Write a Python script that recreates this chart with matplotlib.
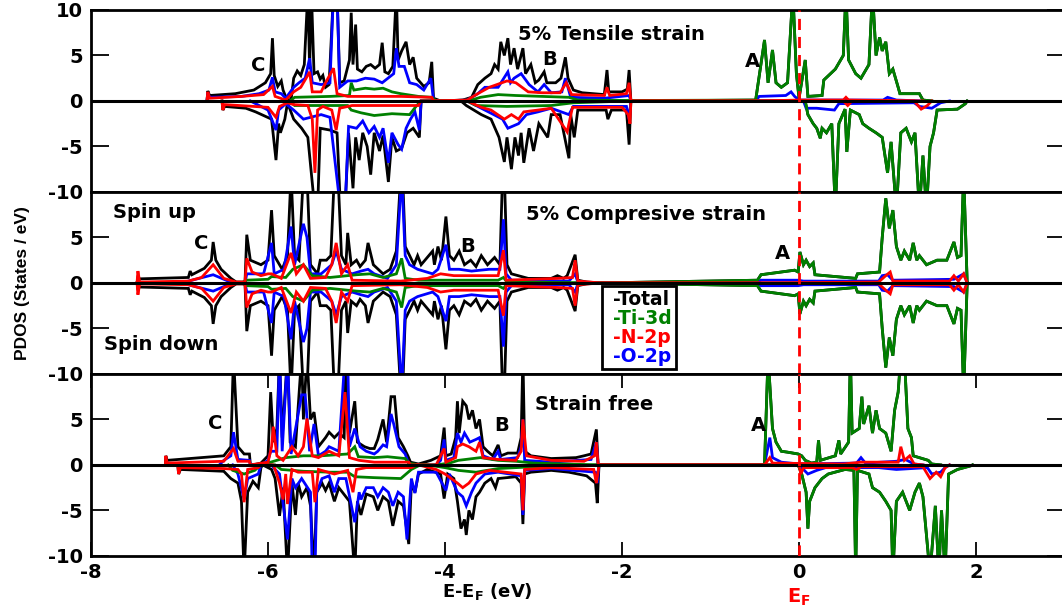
"""PDOS of the three strain states: tensile, compressive and strain free.

Spin up is drawn above zero and spin down below it, one panel per strain state.
Writes out.png.
"""
import numpy as np
import matplotlib
matplotlib.use("Agg")
import matplotlib.pyplot as plt
from matplotlib.lines import Line2D

plt.rcParams["font.family"] = ["DejaVu Sans"]
plt.rcParams["font.weight"] = "bold"
plt.rcParams["axes.unicode_minus"] = False
plt.rcParams["mathtext.fontset"] = "custom"
plt.rcParams["mathtext.rm"] = "DejaVu Sans:bold"
plt.rcParams["mathtext.it"] = "DejaVu Sans:bold"
plt.rcParams["mathtext.bf"] = "DejaVu Sans:bold"

COLORS = {"Total": "black", "Ti-3d": "#008000", "N-2p": "#ff0000", "O-2p": "#0000ff"}

# ---------------------------------------------------------------- 5 % tensile
# (E - E_F in eV, states/eV); the conduction band is shared by Total and Ti-3d
TEN_TOT_UP = [
    (-6.69, 0), (-6.68, 1.1), (-6.66, 0.6), (-6.37, 0.8), (-6.16, 1.2), (-6.03, 2.0),
    (-5.97, 3.0), (-5.95, 6.9), (-5.93, 2.8), (-5.89, 1.6), (-5.85, 2.2), (-5.83, 1.2),
    (-5.79, 0.2), (-5.74, 0.1), (-5.71, 2.5), (-5.67, 3.3), (-5.63, 2.8), (-5.59, 4.0),
    (-5.55, 12), (-5.53, 3.5), (-5.51, 12), (-5.48, 3.0), (-5.44, 3.2), (-5.41, 2.4),
    (-5.38, 2.8), (-5.35, 1.5), (-5.31, 1.8), (-5.26, 12), (-5.22, 12), (-5.19, 2.0),
    (-5.14, 2.2), (-5.08, 4.5), (-5.06, 9.7), (-5.04, 4.0), (-5.01, 8.4), (-4.99, 3.5),
    (-4.94, 3.2), (-4.89, 3.8), (-4.84, 4.0), (-4.79, 3.6), (-4.74, 4.0), (-4.71, 6.4),
    (-4.68, 3.2), (-4.64, 3.0), (-4.59, 3.8), (-4.55, 12), (-4.53, 4.5), (-4.49, 5.5),
    (-4.44, 6.5), (-4.40, 4.0), (-4.36, 4.8), (-4.32, 2.5), (-4.24, 1.6), (-4.18, 2.0),
    (-4.15, 4.3), (-4.13, 0.3), (-4.05, 0.0),
    (-3.80, 0.1), (-3.70, 0.4), (-3.63, 1.8), (-3.55, 2.5), (-3.48, 3.0), (-3.44, 4.0),
    (-3.40, 3.5), (-3.37, 6.5), (-3.33, 5.0), (-3.29, 6.9), (-3.26, 4.0), (-3.22, 5.8),
    (-3.18, 3.5), (-3.12, 5.8), (-3.09, 3.0), (-3.03, 4.0), (-2.98, 2.0), (-2.94, 2.3),
    (-2.88, 3.2), (-2.85, 2.0), (-2.75, 2.0), (-2.69, 2.5), (-2.64, 4.8), (-2.61, 2.5),
    (-2.55, 1.2), (-2.45, 0.9), (-2.20, 0.7), (-2.17, 3.4), (-2.15, 1.0), (-2.00, 1.0),
    (-1.94, 1.3), (-1.92, 3.4), (-1.90, 0.0),
]
TEN_TOT_DN = [
    (-6.52, 0), (-6.51, -1.0), (-6.49, -0.6), (-6.25, -0.8), (-6.14, -1.2), (-5.96, -2.0),
    (-5.91, -6.5), (-5.88, -2.5), (-5.86, -3.5), (-5.81, -2.0), (-5.78, -0.2), (-5.71, -2.0),
    (-5.62, -3.0), (-5.55, -4.0), (-5.47, -12), (-5.44, -12), (-5.41, -3.0), (-5.30, -3.2),
    (-5.22, -3.5), (-5.18, -12), (-5.13, -12), (-5.09, -3.5), (-5.04, -9.6), (-5.01, -4.0),
    (-4.97, -6.5), (-4.93, -3.5), (-4.88, -5.0), (-4.84, -8.1), (-4.80, -3.5), (-4.74, -5.5),
    (-4.70, -3.8), (-4.64, -8.9), (-4.60, -4.0), (-4.55, -5.5), (-4.49, -5.2), (-4.43, -3.5),
    (-4.36, -3.0), (-4.29, -4.0), (-4.27, 0),
    (-3.82, 0), (-3.76, -0.5), (-3.59, -1.5), (-3.48, -2.0), (-3.39, -4.0), (-3.33, -6.7),
    (-3.30, -4.0), (-3.25, -7.5), (-3.21, -4.0), (-3.17, -6.0), (-3.14, -3.5), (-3.11, -6.8),
    (-3.05, -3.0), (-3.00, -5.5), (-2.94, -2.5), (-2.84, -4.0), (-2.80, -1.5), (-2.70, -1.5),
    (-2.60, -6.3), (-2.58, -1.5), (-2.54, -4.0), (-2.50, -1.0), (-2.18, -1.0), (-2.16, -2.0),
    (-2.12, -1.0), (-1.95, -1.0), (-1.92, -4.8), (-1.90, 0),
]
TEN_TI_UP = [
    (-5.75, 0), (-5.70, 0.4), (-5.30, 0.5), (-5.08, 0.6), (-5.06, 2.0), (-5.03, 1.2),
    (-4.90, 1.4), (-4.80, 1.3), (-4.70, 1.4), (-4.60, 1.0), (-4.50, 0.8), (-4.30, 0.5),
    (-4.15, 0.4), (-4.10, 0), (-3.70, 0.1), (-3.60, 0.4), (-3.40, 0.7), (-3.20, 0.6),
    (-2.90, 0.5), (-2.60, 0.4), (-2.50, 0.1), (-1.90, 0.05),
]
TEN_TI_DN = [
    (-5.75, 0), (-5.70, -0.5), (-5.10, -0.5), (-5.06, -1.0), (-4.95, -1.3), (-4.80, -1.6),
    (-4.60, -1.4), (-4.40, -1.5), (-4.32, -0.5), (-4.27, 0), (-3.75, 0), (-3.65, -0.5),
    (-3.30, -0.6), (-2.80, -0.5), (-2.55, -0.2), (-1.90, 0),
]
TEN_CB_UP = [
    (-0.49, 0.1), (-0.39, 6.7), (-0.35, 2.0), (-0.30, 5.6), (-0.26, 2.0), (-0.20, 1.5),
    (-0.13, 2.0), (-0.07, 12), (-0.03, 3.0), (0.00, 0.3), (0.07, 4.5), (0.10, 0.5),
    (0.26, 0.6), (0.28, 2.3), (0.41, 3.5), (0.50, 5.0), (0.53, 12), (0.56, 4.5),
    (0.64, 3.0), (0.70, 2.5), (0.79, 4.0), (0.83, 12), (0.87, 5.0), (0.91, 7.0),
    (0.94, 5.5), (0.98, 6.5), (1.02, 3.0), (1.06, 3.5), (1.12, 1.5), (1.14, 0.8),
    (1.36, 0.8), (1.40, 0.1), (1.50, 0),
]
TEN_CB_DN = [
    (0.07, 0), (0.10, -1.5), (0.16, -2.5), (0.20, -3.0), (0.24, -4.1), (0.26, -3.0),
    (0.31, -3.5), (0.37, -2.5), (0.41, -12), (0.45, -2.5), (0.52, -0.9), (0.54, -5.6),
    (0.58, -1.0), (0.68, -1.5), (0.72, -2.5), (0.79, -3.0), (0.87, -3.5), (0.94, -4.0),
    (1.00, -7.9), (1.04, -4.5), (1.10, -12), (1.15, -3.5), (1.21, -3.0), (1.27, -4.5),
    (1.31, -3.5), (1.36, -12), (1.40, -6.0), (1.44, -12), (1.48, -5.0), (1.52, -3.5),
    (1.56, -1.0), (1.79, -0.9), (1.88, -0.3), (1.90, 0),
]
TEN_N_UP = [
    (-6.69, 0), (-6.68, 1.0), (-6.66, 0.3), (-6.30, 0.5), (-6.05, 0.7), (-5.95, 1.6),
    (-5.92, 0.5), (-5.80, 0.1), (-5.71, 1.0), (-5.63, 1.5), (-5.57, 2.5), (-5.53, 3.2),
    (-5.50, 1.0), (-5.40, 1.0), (-5.35, 2.0), (-5.26, 3.6), (-5.22, 0.8), (-5.10, 0.5),
    (-4.50, 0.5), (-4.15, 0.4), (-4.13, 0),
    (-3.75, 0.1), (-3.63, 0.8), (-3.50, 1.5), (-3.30, 2.2), (-3.20, 2.0), (-3.06, 1.0),
    (-2.90, 0.9), (-2.70, 0.9), (-2.63, 2.0), (-2.57, 0.7), (-2.20, 0.6), (-2.17, 1.5),
    (-2.14, 0.6), (-1.95, 0.8), (-1.92, 2.0), (-1.90, 0),
    (-0.45, 0), (0.0, 0.1), (0.50, 0.1), (0.53, 0.4), (0.56, 0.1), (1.40, 0),
]
TEN_N_DN = [
    (-6.52, 0), (-6.51, -1.0), (-6.49, -0.4), (-6.00, -0.7), (-5.91, -1.8), (-5.87, -0.6),
    (-5.78, -0.2), (-5.71, -0.4), (-5.55, -0.5), (-5.50, -2.0), (-5.47, -7.9), (-5.44, -1.0),
    (-5.38, -0.6), (-5.28, -1.0), (-5.23, -3.2), (-5.19, -0.8), (-5.05, -0.5), (-4.30, -0.5),
    (-4.27, 0),
    (-3.75, 0), (-3.59, -0.7), (-3.48, -1.0), (-3.33, -2.0), (-3.25, -1.5), (-3.17, -2.0),
    (-3.11, -1.2), (-2.95, -1.0), (-2.80, -0.8), (-2.62, -3.4), (-2.56, -0.7), (-2.00, -0.7),
    (-1.93, -1.5), (-1.91, -2.5), (-1.90, 0),
    (0.50, 0), (0.55, -0.5), (0.60, 0), (1.30, 0), (1.38, -0.9), (1.45, -0.5), (1.50, 0),
]
TEN_O_UP = [
    (-6.69, 0), (-6.68, 0.9), (-6.66, 0.4), (-6.30, 0.5), (-6.10, 0.8), (-5.99, 1.2),
    (-5.95, 2.6), (-5.92, 1.0), (-5.85, 0.8), (-5.80, 0.3), (-5.71, 1.5), (-5.65, 2.0),
    (-5.58, 2.5), (-5.53, 4.7), (-5.50, 2.0), (-5.40, 1.8), (-5.30, 2.0), (-5.26, 12),
    (-5.22, 12), (-5.19, 1.5), (-5.10, 2.2), (-5.00, 2.2), (-4.90, 2.5), (-4.80, 2.4),
    (-4.71, 2.0), (-4.58, 3.0), (-4.55, 5.8), (-4.52, 3.8), (-4.46, 3.8), (-4.40, 2.0),
    (-4.32, 1.8), (-4.24, 1.2), (-4.16, 2.5), (-4.13, 0.1), (-4.05, 0),
    (-3.75, 0.1), (-3.63, 0.8), (-3.55, 1.5), (-3.40, 1.5), (-3.29, 3.2), (-3.26, 2.0),
    (-3.22, 2.5), (-3.14, 3.0), (-3.05, 1.8), (-2.95, 1.0), (-2.88, 1.8), (-2.80, 0.9),
    (-2.68, 1.0), (-2.64, 2.5), (-2.58, 0.4), (-2.20, 0.3), (-1.92, 0.6), (-1.90, 0),
    (-0.49, 0), (-0.45, 0.5), (-0.15, 0.6), (-0.09, 1.0), (-0.05, 0.5), (0.00, 0.1),
    (0.95, 0.1), (1.00, 0.4), (1.10, 0.1), (1.40, 0),
]
TEN_O_DN = [
    (-6.20, 0), (-6.00, -1.0), (-5.91, -3.2), (-5.88, -1.0), (-5.80, -0.3), (-5.71, -1.0),
    (-5.60, -2.0), (-5.40, -1.5), (-5.30, -1.8), (-5.18, -12), (-5.13, -12), (-5.09, -2.8),
    (-5.00, -3.0), (-4.93, -2.2), (-4.86, -3.5), (-4.80, -2.8), (-4.74, -4.0), (-4.70, -3.0),
    (-4.64, -6.8), (-4.60, -3.5), (-4.53, -4.8), (-4.49, -5.3), (-4.44, -3.0), (-4.39, -2.0),
    (-4.34, -1.2), (-4.29, -3.2), (-4.27, 0),
    (-3.75, 0), (-3.59, -0.8), (-3.45, -1.5), (-3.35, -2.0), (-3.29, -3.0), (-3.17, -2.5),
    (-3.08, -1.5), (-2.95, -1.2), (-2.80, -0.8), (-2.60, -1.5), (-2.55, -0.6), (-1.95, -0.6),
    (-1.92, -2.0), (-1.90, 0),
    (0.05, 0), (0.08, -0.8), (0.20, -0.8), (0.40, -1.0), (0.45, -0.3), (1.30, -0.2),
    (1.36, -0.6), (1.50, -0.8), (1.60, -0.2), (1.70, 0),
]

# -------------------------------------------------------- 5 % compressive
# spin up only: the spin-down curves of this panel are its mirror image
CMP_TOT_UP = [
    (-7.48, 0), (-7.47, 0.6), (-7.45, 0.45), (-6.90, 0.6), (-6.88, 1.3), (-6.86, 0.9),
    (-6.72, 1.6), (-6.64, 2.5), (-6.62, 4.5), (-6.59, 2.5), (-6.53, 1.5), (-6.42, 0.5),
    (-6.36, 0.1), (-6.26, 0.1), (-6.24, 5.3), (-6.20, 2.5), (-6.08, 2.0), (-6.00, 2.5),
    (-5.96, 8.0), (-5.93, 3.0), (-5.84, 1.5), (-5.78, 3.0), (-5.74, 12), (-5.70, 3.0),
    (-5.65, 2.5), (-5.60, 12), (-5.56, 12), (-5.52, 2.0), (-5.44, 1.0), (-5.41, 2.5),
    (-5.34, 2.5), (-5.29, 3.0), (-5.25, 12), (-5.21, 12), (-5.17, 3.0), (-5.12, 2.0),
    (-5.10, 5.5), (-5.06, 2.0), (-5.00, 2.5), (-4.96, 1.8), (-4.90, 2.5), (-4.87, 4.4),
    (-4.81, 2.0), (-4.70, 1.0), (-4.62, 1.5), (-4.55, 3.5), (-4.50, 12), (-4.48, 12),
    (-4.45, 4.0), (-4.40, 3.0), (-4.35, 2.0), (-4.31, 3.0), (-4.27, 2.0), (-4.14, 3.5),
    (-4.12, 2.0), (-4.08, 4.0), (-4.04, 2.5), (-3.99, 7.3), (-3.95, 3.0), (-3.90, 2.5),
    (-3.84, 3.5), (-3.78, 2.0), (-3.71, 2.5), (-3.65, 1.8), (-3.59, 3.0), (-3.52, 2.0),
    (-3.44, 2.8), (-3.38, 2.0), (-3.35, 12), (-3.33, 12), (-3.30, 2.0), (-3.25, 1.0),
    (-3.06, 0.5), (-2.80, 0.5), (-2.73, 0.8), (-2.66, 0.5), (-2.62, 0.8), (-2.53, 3.1),
    (-2.50, 0.3), (-2.40, 0.1), (-2.24, 0.0),
]
CMP_TI_UP = [
    (-6.30, 0), (-6.24, 0.3), (-6.00, 0.4), (-5.96, 0.7), (-5.80, 0.6), (-5.72, 1.5),
    (-5.60, 2.0), (-5.50, 0.8), (-5.30, 0.6), (-5.00, 0.9), (-4.85, 1.0), (-4.70, 0.6),
    (-4.55, 1.0), (-4.49, 2.7), (-4.45, 0.5), (-4.30, 0.3), (-3.40, 0.3), (-3.34, 0.6),
    (-3.30, 0.1), (-2.24, 0),
]
CMP_CB_UP = [
    (-0.47, 0.3), (-0.43, 0.9), (-0.05, 1.4), (-0.01, 1.2), (0.01, 3.4), (0.05, 2.0),
    (0.08, 2.5), (0.12, 1.8), (0.16, 2.2), (0.18, 0.9), (0.64, 0.5), (0.66, 1.0),
    (0.91, 1.2), (0.94, 5.0), (0.98, 9.3), (1.02, 6.0), (1.06, 8.0), (1.10, 4.0),
    (1.15, 2.5), (1.19, 3.5), (1.25, 2.5), (1.29, 4.4), (1.33, 2.5), (1.36, 3.0),
    (1.44, 2.0), (1.56, 2.5), (1.67, 2.5), (1.75, 4.5), (1.79, 2.8), (1.83, 3.0),
    (1.86, 12), (1.90, 0),
]
CMP_N_UP = [
    (-7.48, 0), (-7.47, 1.3), (-7.45, 0.1), (-6.90, 0.2), (-6.75, 0.6), (-6.62, 2.0),
    (-6.50, 0.5), (-6.36, 0.1), (-6.26, 0.1), (-6.24, 2.7), (-6.18, 1.2), (-6.08, 0.8),
    (-6.00, 1.0), (-5.96, 1.0), (-5.85, 0.5), (-5.74, 3.3), (-5.68, 1.0), (-5.60, 2.0),
    (-5.52, 0.5), (-5.35, 0.6), (-5.28, 2.0), (-5.23, 4.4), (-5.17, 1.0), (-5.10, 2.0),
    (-5.05, 0.3), (-4.50, 0.2), (-4.20, 0.5), (-4.05, 1.0), (-3.90, 0.8), (-3.60, 0.8),
    (-3.40, 0.8), (-3.34, 3.6), (-3.31, 0.3), (-2.73, 0.5), (-2.56, 0.6), (-2.53, 2.5),
    (-2.50, 0.2), (-2.24, 0),
    (-0.47, 0), (0.90, 0.1), (0.98, 0.8), (1.03, 1.2), (1.06, 0.2), (1.70, 0.2),
    (1.75, 0.8), (1.80, 0.2), (1.86, 1.0), (1.90, 0),
]
CMP_O_UP = [
    (-7.00, 0), (-6.90, 0.2), (-6.62, 0.9), (-6.45, 0.2), (-6.36, 0), (-6.26, 0),
    (-6.24, 1.0), (-6.05, 1.0), (-5.96, 4.4), (-5.93, 1.0), (-5.82, 1.5), (-5.74, 6.2),
    (-5.70, 2.0), (-5.60, 6.5), (-5.56, 5.0), (-5.52, 1.0), (-5.40, 1.0), (-5.28, 2.0),
    (-5.23, 3.5), (-5.17, 1.5), (-5.05, 1.0), (-4.95, 1.3), (-4.87, 1.5), (-4.80, 1.0),
    (-4.65, 0.5), (-4.55, 2.0), (-4.49, 12), (-4.45, 3.0), (-4.40, 2.0), (-4.31, 1.5),
    (-4.14, 1.0), (-4.08, 1.5), (-3.99, 4.2), (-3.95, 1.5), (-3.84, 1.5), (-3.70, 1.3),
    (-3.50, 1.5), (-3.38, 1.5), (-3.34, 7.0), (-3.31, 1.0), (-3.25, 0.3), (-2.60, 0.2),
    (-2.53, 1.0), (-2.50, 0.1), (-2.24, 0),
    (-0.47, 0), (-0.43, 0.3), (-0.01, 0.3), (0.05, 0.2), (0.90, 0.2), (0.94, 0.8),
    (1.00, 0.9), (1.06, 0.3), (1.75, 0.4), (1.86, 1.0), (1.90, 0),
]

# ---------------------------------------------------------------- strain free
FREE_TOT_UP = [
    (-7.16, 0), (-7.155, 1.0), (-7.14, 0.5), (-6.50, 1.0), (-6.42, 2.0), (-6.39, 12),
    (-6.34, 2.0), (-6.27, 1.2), (-6.21, 1.2), (-6.20, 0.1), (-6.17, 0),
    (-6.08, 0.2), (-6.00, 1.0), (-5.97, 8.0), (-5.94, 2.5), (-5.90, 4.0), (-5.87, 12),
    (-5.84, 3.0), (-5.78, 12), (-5.75, 2.5), (-5.69, 2.0), (-5.62, 12), (-5.60, 5.0),
    (-5.56, 12), (-5.52, 5.0), (-5.48, 5.8), (-5.43, 2.0), (-5.35, 3.0), (-5.31, 3.6),
    (-5.25, 3.0), (-5.20, 3.5), (-5.14, 3.0), (-5.12, 12), (-5.08, 3.5), (-5.02, 7.0),
    (-4.99, 2.5), (-4.91, 2.0), (-4.85, 1.8), (-4.80, 1.8), (-4.76, 2.8), (-4.70, 5.0),
    (-4.66, 2.5), (-4.61, 7.5), (-4.57, 7.5), (-4.53, 3.0), (-4.47, 2.0), (-4.42, 1.0),
    (-4.39, 0.3), (-4.30, 0.1),
    (-4.16, 0.5), (-4.05, 1.0), (-4.01, 4.1), (-3.99, 1.0), (-3.93, 1.2), (-3.88, 3.0),
    (-3.86, 7.0), (-3.84, 3.5), (-3.80, 7.0), (-3.76, 6.5), (-3.73, 5.0), (-3.69, 6.0),
    (-3.65, 4.0), (-3.61, 5.0), (-3.57, 2.0), (-3.52, 1.5), (-3.46, 1.0), (-3.40, 2.2),
    (-3.37, 1.0), (-3.29, 1.3), (-3.18, 1.3), (-3.14, 3.0), (-3.12, 12), (-3.10, 1.5),
    (-3.03, 1.0), (-2.80, 0.7), (-2.52, 0.8), (-2.43, 1.0), (-2.35, 1.2), (-2.29, 3.9),
    (-2.27, 0.0),
]
FREE_TOT_DN = [
    (-7.02, 0), (-7.01, -1.0), (-6.99, -0.5), (-6.50, -0.7), (-6.42, -1.5), (-6.34, -2.0),
    (-6.30, -4.0), (-6.27, -12), (-6.23, -3.0), (-6.17, -1.8), (-6.11, -2.5), (-6.08, -0.3),
    (-6.06, 0),
    (-5.96, -0.5), (-5.92, -1.5), (-5.87, -5.6), (-5.83, -2.5), (-5.78, -12), (-5.73, -2.0),
    (-5.69, -5.5), (-5.66, -2.0), (-5.62, -3.5), (-5.56, -2.5), (-5.52, -4.5), (-5.48, -12),
    (-5.45, -3.0), (-5.39, -2.0), (-5.35, -2.8), (-5.31, -2.0), (-5.25, -4.0), (-5.20, -2.5),
    (-5.16, -3.0), (-5.08, -4.0), (-5.02, -12), (-4.99, -4.0), (-4.95, -5.5), (-4.89, -3.2),
    (-4.81, -3.5), (-4.76, -5.0), (-4.70, -3.5), (-4.64, -4.0), (-4.59, -6.7), (-4.53, -4.0),
    (-4.47, -4.5), (-4.41, -8.7), (-4.38, -2.0), (-4.34, -3.0), (-4.30, -1.0),
    (-4.20, -0.5), (-4.05, -1.0), (-4.01, -3.7), (-3.97, -1.0), (-3.90, -1.5), (-3.86, -4.0),
    (-3.82, -7.0), (-3.78, -6.0), (-3.76, -7.7), (-3.73, -5.0), (-3.69, -6.0), (-3.65, -3.5),
    (-3.61, -3.0), (-3.55, -2.0), (-3.48, -1.5), (-3.43, -2.5), (-3.40, -1.5), (-3.20, -1.3),
    (-3.14, -2.0), (-3.12, -6.5), (-3.10, -1.0), (-3.03, -0.8), (-2.80, -0.6), (-2.60, -0.8),
    (-2.40, -1.2), (-2.30, -2.0), (-2.28, -4.2), (-2.26, 0),
]
FREE_TI_UP = [
    (-6.10, 0), (-5.97, 0.3), (-5.80, 0.8), (-5.60, 1.0), (-5.40, 1.0), (-5.10, 1.2),
    (-5.02, 2.0), (-4.98, 0.9), (-4.80, 0.8), (-4.65, 0.9), (-4.45, 0.7), (-4.41, 0.2),
    (-4.30, 0), (-4.10, 0), (-3.95, 0.2), (-3.85, 0.5), (-3.60, 0.8), (-3.40, 0.5),
    (-3.20, 0.4), (-3.00, 0.2), (-2.27, 0),
]
FREE_TI_DN = [
    (-6.45, 0), (-6.40, -0.6), (-6.27, -1.0), (-6.15, -0.6), (-6.08, 0), (-5.92, 0),
    (-5.85, -0.5), (-5.60, -0.7), (-5.30, -0.8), (-5.10, -0.8), (-5.02, -1.3), (-4.80, -1.4),
    (-4.50, -1.5), (-4.38, -0.5), (-4.28, 0), (-4.20, 0), (-4.00, -0.3), (-3.85, -0.6),
    (-3.65, -0.8), (-3.40, -0.4), (-3.00, -0.2), (-2.26, 0),
]
FREE_CB_UP = [
    (-0.39, 0), (-0.35, 12), (-0.30, 4.0), (-0.26, 2.5), (-0.20, 1.5), (-0.13, 1.4),
    (-0.01, 1.2), (0.03, 1.0), (0.07, 0.5), (0.14, 0.2), (0.20, 0.3), (0.22, 2.7),
    (0.24, 0.5), (0.41, 1.0), (0.45, 2.7), (0.47, 1.2), (0.56, 2.5), (0.58, 12),
    (0.60, 3.5), (0.68, 4.0), (0.71, 7.5), (0.73, 4.5), (0.79, 6.5), (0.83, 3.5),
    (0.87, 6.0), (0.91, 4.0), (0.98, 3.5), (1.04, 1.5), (1.08, 6.0), (1.12, 8.0),
    (1.15, 12), (1.19, 12), (1.23, 4.0), (1.27, 3.0), (1.29, 1.0), (1.46, 0.5),
    (1.50, 0.1), (1.60, 0),
]
FREE_CB_DN = [
    (-0.01, 0), (0.03, -1.0), (0.08, -3.0), (0.10, -7.0), (0.12, -4.0), (0.18, -2.5),
    (0.26, -1.5), (0.33, -1.0), (0.52, -0.5), (0.62, -0.6), (0.64, -12), (0.66, -0.6),
    (0.79, -1.0), (0.83, -2.5), (0.91, -3.0), (0.98, -4.0), (1.04, -5.0), (1.06, -12),
    (1.10, -4.0), (1.17, -3.0), (1.25, -5.0), (1.31, -3.0), (1.36, -2.0), (1.40, -3.5),
    (1.48, -12), (1.54, -4.5), (1.58, -12), (1.61, -5.0), (1.65, -12), (1.69, -1.0),
    (1.79, -0.5), (1.94, -0.1), (1.96, 0),
]
FREE_N_UP = [
    (-7.16, 0), (-7.155, 1.0), (-7.14, 0.2), (-6.50, 0.4), (-6.39, 1.8), (-6.34, 0.4),
    (-6.21, 0.4), (-6.20, 0), (-6.00, 0.3), (-5.96, 2.0), (-5.94, 4.2), (-5.90, 1.0),
    (-5.83, 0.5), (-5.73, 2.0), (-5.66, 1.0), (-5.60, 2.0), (-5.56, 5.1), (-5.50, 1.0),
    (-5.43, 0.8), (-5.31, 1.5), (-5.20, 1.0), (-5.13, 8.0), (-5.08, 0.8), (-4.97, 0.5),
    (-4.80, 0.3), (-4.41, 0.3), (-4.39, 0),
    (-4.10, 0), (-4.01, 1.8), (-3.99, 0.3), (-3.88, 0.8), (-3.86, 2.0), (-3.80, 2.3),
    (-3.73, 2.0), (-3.65, 1.5), (-3.61, 2.5), (-3.57, 0.8), (-3.40, 0.6), (-3.20, 0.5),
    (-3.14, 1.5), (-3.12, 5.0), (-3.08, 1.0), (-2.80, 0.5), (-2.43, 0.4), (-2.31, 1.0),
    (-2.29, 2.5), (-2.27, 0),
    (-0.39, 0), (-0.33, 0.8), (-0.30, 0.2), (0.50, 0.1), (0.70, 0.3), (1.12, 0.3),
    (1.15, 2.0), (1.19, 0.5), (1.25, 1.0), (1.30, 0.1), (1.40, 0),
]
FREE_N_DN = [
    (-7.02, 0), (-7.01, -1.0), (-6.99, -0.3), (-6.50, -0.4), (-6.34, -0.5), (-6.30, -1.0),
    (-6.27, -4.1), (-6.23, -0.5), (-6.11, -0.3), (-6.08, 0), (-5.94, 0), (-5.92, -0.5),
    (-5.87, -2.0), (-5.83, -3.8), (-5.80, -1.0), (-5.78, -4.3), (-5.73, -0.5), (-5.66, -0.8),
    (-5.50, -0.8), (-5.47, -4.1), (-5.43, -0.5), (-5.25, -1.0), (-5.10, -0.6), (-5.04, -3.0),
    (-5.00, -0.5), (-4.89, -0.3), (-4.38, -0.3), (-4.32, 0),
    (-4.30, 0), (-4.10, -0.5), (-4.00, -1.0), (-3.86, -2.0), (-3.80, -2.5), (-3.73, -2.0),
    (-3.65, -1.0), (-3.50, -0.6), (-3.14, -1.0), (-3.12, -5.0), (-3.10, -0.5), (-2.80, -0.3),
    (-2.32, -0.5), (-2.29, -2.0), (-2.26, 0),
    (0.00, 0), (0.02, -1.0), (0.05, -0.3), (0.60, -0.3), (0.65, -0.5), (0.70, -0.2),
    (1.40, -0.2), (1.48, -1.5), (1.55, -0.8), (1.60, -1.3), (1.65, -0.3), (1.70, 0),
]
FREE_O_UP = [
    (-6.55, 0), (-6.50, 0.5), (-6.42, 1.0), (-6.39, 3.6), (-6.34, 0.6), (-6.21, 0.5),
    (-6.20, 0), (-6.08, 0), (-6.00, 0.5), (-5.97, 1.5), (-5.90, 1.5), (-5.87, 12),
    (-5.84, 1.5), (-5.78, 12), (-5.74, 1.2), (-5.62, 7.7), (-5.58, 7.7), (-5.53, 1.5),
    (-5.48, 4.5), (-5.43, 1.0), (-5.35, 1.5), (-5.31, 2.0), (-5.20, 1.5), (-5.13, 12),
    (-5.10, 12), (-5.08, 2.0), (-5.02, 4.0), (-4.96, 2.0), (-4.89, 1.5), (-4.80, 1.2),
    (-4.76, 1.5), (-4.70, 2.2), (-4.66, 2.0), (-4.61, 5.6), (-4.58, 4.5), (-4.52, 2.0),
    (-4.45, 1.2), (-4.41, 0.1), (-4.30, 0),
    (-4.10, 0), (-4.05, 0.5), (-4.01, 2.8), (-3.99, 0.5), (-3.90, 0.8), (-3.86, 3.5),
    (-3.82, 2.5), (-3.78, 3.5), (-3.72, 2.5), (-3.65, 2.8), (-3.61, 3.0), (-3.57, 1.0),
    (-3.46, 0.6), (-3.40, 1.5), (-3.37, 0.6), (-3.18, 0.8), (-3.14, 2.0), (-3.12, 5.0),
    (-3.10, 0.5), (-2.80, 0.3), (-2.35, 0.6), (-2.29, 2.5), (-2.27, 0),
    (-0.39, 0), (-0.33, 3.0), (-0.30, 0.8), (-0.20, 0.3), (0.00, 0.1), (0.65, 0.2),
    (0.70, 0.8), (0.75, 0.2), (1.10, 0.4), (1.20, 0.6), (1.30, 0.1), (1.40, 0),
]
FREE_O_DN = [
    (-6.40, 0), (-6.34, -1.0), (-6.27, -3.8), (-6.23, -1.5), (-6.11, -1.0), (-6.08, 0),
    (-5.96, 0), (-5.92, -0.5), (-5.87, -1.0), (-5.78, -8.2), (-5.73, -1.5), (-5.69, -2.5),
    (-5.62, -1.5), (-5.52, -3.0), (-5.50, -12), (-5.47, -12), (-5.45, -3.0), (-5.39, -1.5),
    (-5.31, -1.2), (-5.25, -3.0), (-5.20, -1.5), (-5.12, -1.5), (-5.02, -6.3), (-4.97, -3.0),
    (-4.95, -3.8), (-4.89, -2.5), (-4.81, -2.5), (-4.76, -3.5), (-4.70, -2.5), (-4.64, -3.0),
    (-4.59, -4.5), (-4.53, -3.0), (-4.47, -3.5), (-4.43, -8.2), (-4.38, -1.5), (-4.34, -3.1),
    (-4.30, -0.8),
    (-4.10, -0.8), (-3.99, -2.8), (-3.95, -1.0), (-3.86, -3.0), (-3.80, -3.5), (-3.76, -4.5),
    (-3.70, -3.0), (-3.65, -2.0), (-3.55, -1.0), (-3.40, -0.8), (-3.14, -1.2), (-3.12, -5.5),
    (-3.10, -0.6), (-2.80, -0.4), (-2.30, -0.8), (-2.28, -2.0), (-2.26, 0),
    (0.00, 0), (0.05, -0.5), (0.10, -1.0), (0.20, -0.6), (0.30, -0.3), (0.65, -0.3),
    (0.90, -0.3), (1.10, -0.5), (1.45, -0.3), (1.50, -1.0), (1.60, -0.8), (1.65, -0.3),
    (1.70, 0),
]


def xy(*parts):
    """Join lists of (E, dos) pairs into two arrays ordered by energy."""
    pts = sorted(p for part in parts for p in part)
    return np.array(pts).T


def mirror(pairs):
    return [(e, -v) for e, v in pairs]


def draw(ax, curves):
    """curves: {name: (spin_up_xy, spin_down_xy)} — drawn Total, O, Ti, N."""
    for name in ("Total", "O-2p", "Ti-3d", "N-2p"):
        up, dn = curves[name]
        ax.plot(*up, color=COLORS[name], lw=2.0, solid_joinstyle="miter")
        ax.plot(*dn, color=COLORS[name], lw=2.0, solid_joinstyle="miter")
    ax.axhline(0, color="black", lw=2.2, zorder=5)
    ax.axvline(0, color="#ff0000", lw=2.0, ls=(0, (4, 2.5)), zorder=6)
    ax.set_xlim(-8, 3)
    ax.set_ylim(-10, 10)
    ax.set_yticks([-10, -5, 0, 5, 10])
    ax.tick_params(axis="y", which="both", direction="in", length=13, width=1.3,
                   left=True, right=True, labelsize=14, pad=6)
    for s in ax.spines.values():
        s.set_linewidth(2.0)


fig = plt.figure(figsize=(10.62, 6.08), dpi=100)
L, W, H = 0.0857, 0.9167, 0.2993
ax1 = fig.add_axes([L, 0.6843, W, H])
ax2 = fig.add_axes([L, 0.3850, W, H])
ax3 = fig.add_axes([L, 0.0857, W, H])

draw(ax1, {
    "Total": (xy(TEN_TOT_UP, TEN_CB_UP), xy(TEN_TOT_DN, TEN_CB_DN)),
    "Ti-3d": (xy(TEN_TI_UP, TEN_CB_UP), xy(TEN_TI_DN, TEN_CB_DN)),
    "N-2p": (xy(TEN_N_UP), xy(TEN_N_DN)),
    "O-2p": (xy(TEN_O_UP), xy(TEN_O_DN)),
})
draw(ax2, {
    "Total": (xy(CMP_TOT_UP, CMP_CB_UP), xy(mirror(CMP_TOT_UP), mirror(CMP_CB_UP))),
    "Ti-3d": (xy(CMP_TI_UP, CMP_CB_UP), xy(mirror(CMP_TI_UP), mirror(CMP_CB_UP))),
    "N-2p": (xy(CMP_N_UP), xy(mirror(CMP_N_UP))),
    "O-2p": (xy(CMP_O_UP), xy(mirror(CMP_O_UP))),
})
draw(ax3, {
    "Total": (xy(FREE_TOT_UP, FREE_CB_UP), xy(FREE_TOT_DN, FREE_CB_DN)),
    "Ti-3d": (xy(FREE_TI_UP, FREE_CB_UP), xy(FREE_TI_DN, FREE_CB_DN)),
    "N-2p": (xy(FREE_N_UP), xy(FREE_N_DN)),
    "O-2p": (xy(FREE_O_UP), xy(FREE_O_DN)),
})

for ax in (ax1, ax2):
    ax.tick_params(axis="x", which="both", bottom=False, top=False, labelbottom=False)
for ax in (ax2, ax3):
    ax.set_yticklabels(["-10", "-5", "0", "5", ""])
ax3.set_xticks([-8, -6, -4, -2, 0, 2])
ax3.tick_params(axis="x", direction="in", length=10, width=1.3, top=True,
                labelsize=14, pad=5)

kw = dict(fontsize=14, fontweight="bold")
ax1.text(-3.18, 7.3, "5% Tensile strain", va="center", **kw)
ax1.text(-6.11, 3.9, "C", ha="center", va="center", **kw)
ax1.text(-2.82, 4.6, "B", ha="center", va="center", **kw)
ax1.text(-0.53, 4.3, "A", ha="center", va="center", **kw)

ax2.text(-7.75, 7.7, "Spin up", va="center", **kw)
ax2.text(-7.85, -6.8, "Spin down", va="center", **kw)
ax2.text(-6.76, 4.3, "C", ha="center", va="center", **kw)
ax2.text(-3.74, 4.0, "B", ha="center", va="center", **kw)
ax2.text(-3.08, 7.5, "5% Compresive strain", va="center", **kw)
ax2.text(-0.19, 3.2, "A", ha="center", va="center", **kw)

ax3.text(-2.98, 6.6, "Strain free", va="center", **kw)
ax3.text(-6.60, 4.5, "C", ha="center", va="center", **kw)
ax3.text(-3.36, 4.3, "B", ha="center", va="center", **kw)
ax3.text(-0.46, 4.3, "A", ha="center", va="center", **kw)

names = list(COLORS)
blank = [Line2D([], [], linestyle="none") for _ in names]
leg = ax2.legend(blank, ["-" + n for n in names], labelcolor=[COLORS[n] for n in names],
                 handlelength=0.4, handletextpad=0, loc="lower left",
                 bbox_to_anchor=(0.525, 0.025), frameon=True, fancybox=False,
                 edgecolor="black", framealpha=1, borderpad=0.2, labelspacing=0.0,
                 borderaxespad=0.0, prop={"weight": "bold", "size": 13.5})
leg.get_frame().set_linewidth(2.0)
leg.set_zorder(10)

ax3.text(0, -14.6, r"E$_{F}$", color="#ff0000", ha="center", va="center",
         fontsize=14, clip_on=False)
fig.text(0.459, 0.027, r"E-E$_{F}$ (eV)", ha="center", va="center", fontsize=13)
fig.text(0.021, 0.535, "PDOS (States / eV)", rotation=90, ha="center", va="center",
         fontsize=12.5, family="Liberation Sans")

fig.savefig("out.png", dpi=100)
